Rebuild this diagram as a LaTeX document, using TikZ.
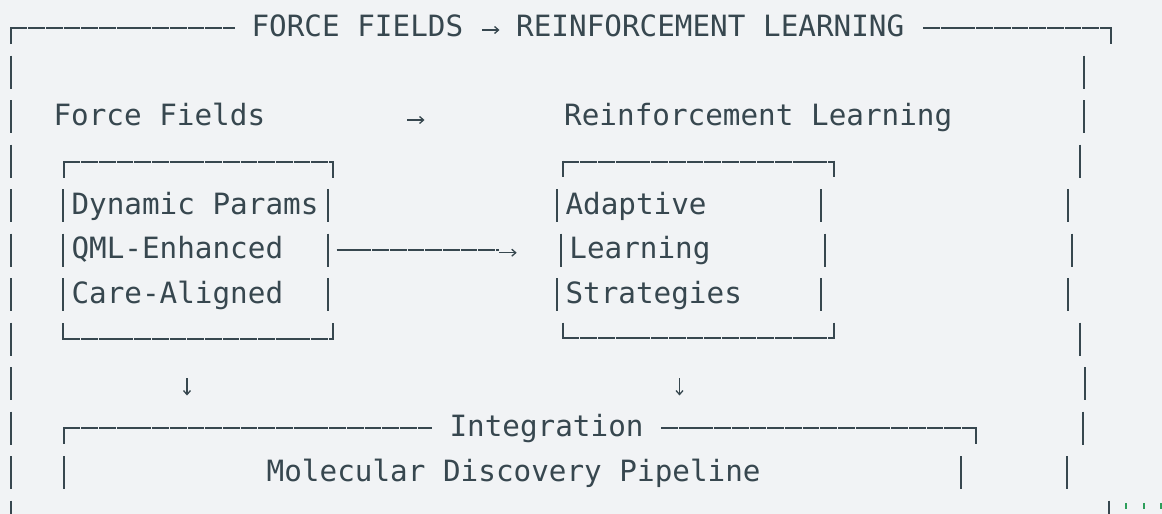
\documentclass[tikz,border=0pt]{standalone}
\usepackage{fontspec}
\newfontfamily\monofam{DejaVu Sans Mono}
\usetikzlibrary{arrows.meta}
\definecolor{ink}{HTML}{37474F}
\definecolor{bgc}{HTML}{F1F3F5}
\definecolor{tickc}{HTML}{2E9E5B}
\tikzset{
  txt/.style={anchor=base west, inner sep=0pt, outer sep=0pt, text=ink,
              font=\monofam\fontsize{29.3}{35}\selectfont},
  rule/.style={draw=ink, line width=2pt},
  hrule/.style={draw=ink, line width=2pt, dash pattern=on 16.8pt off 0.9pt},
  garrow/.style={draw=ink, line width=1.3pt, -{Straight Barb[length=4pt,width=7pt]}},
  ticks/.style={draw=tickc, line width=2pt}
}
\begin{document}
\begin{tikzpicture}[x=1pt,y=-1pt]
\fill[bgc] (0,0) rectangle (1162,514);
\useasboundingbox (0,0) rectangle (1162,514);

% ---- title row
\node[txt] (tA) at (251.5,36) {FORCE FIELDS};
\node[txt] (tB) at (516.2,36) {REINFORCEMENT LEARNING};
\coordinate (ta1) at (482,30);
\coordinate (ta2) at (499.5,30);
\draw[garrow] (ta1) -- (ta2);

% ---- outer frame
\draw[rule] (10.5,44) -- (10.5,27);
\draw[hrule] (10.5,28) -- (235,28);
\draw[hrule] (923,28) -- (1111,28);
\draw[rule] (1111,27) -- (1111,44);
\foreach \y in {55.5,100,144.5,189,233.5,278,322.5,367,411.5,456,500.5}
  \draw[rule] (10.5,\y) -- (10.5,\y+33);
\foreach \x/\y in {1084/55.5,1084/100,1080/144.5,1068/189,1072/233.5,1068/278,
                   1080/322.5,1084.5/367,1083/411.5,1067/456,1109/500.5}
  \draw[rule] (\x,\y) -- (\x,\y+33);
\foreach \x in {1126,1143.7,1161}
  \draw[ticks] (\x,503) -- (\x,509);

% ---- column headers
\node[txt] (ff) at (53.5,125) {Force Fields};
\node[txt] (rl) at (564.2,125) {Reinforcement Learning};
\coordinate (ha1) at (407,120);
\coordinate (ha2) at (424.5,120);
\draw[garrow] (ha1) -- (ha2);

% ---- box 1
\draw[rule] (63.5,161) -- (63.5,178);
\draw[hrule] (63.5,162) -- (333.3,162);
\draw[rule] (333.3,161) -- (333.3,178);
\foreach \y in {189,233.5,278}{
  \draw[rule] (63.3,\y) -- (63.3,\y+33);
  \draw[rule] (328.3,\y) -- (328.3,\y+33);
}
\node[txt] (dp) at (71.5,214) {Dynamic Params};
\node[txt] (qml) at (71.5,258.5) {QML-Enhanced};
\node[txt] (ca) at (71.5,303) {Care-Aligned};
\draw[rule] (63.3,323) -- (63.3,340.3);
\draw[hrule] (63.3,339.3) -- (333.3,339.3);
\draw[rule] (333.3,323) -- (333.3,340.3);

% ---- box 2
\draw[rule] (562.6,160.7) -- (562.6,176.7);
\draw[hrule] (562.6,161.7) -- (833.6,161.7);
\draw[rule] (833.6,160.7) -- (833.6,176.7);
\foreach \xl/\xr/\y in {556.7/821/189,560.6/825/233.5,556.7/821/278}{
  \draw[rule] (\xl,\y) -- (\xl,\y+33);
  \draw[rule] (\xr,\y) -- (\xr,\y+33);
}
\node[txt] (ad) at (565.5,214) {Adaptive};
\node[txt] (le) at (569.4,258.5) {Learning};
\node[txt] (st) at (565.5,303) {Strategies};
\draw[rule] (562.6,322.7) -- (562.6,339.3);
\draw[hrule] (562.6,338.3) -- (833.6,338.3);
\draw[rule] (833.6,322.7) -- (833.6,339.3);

% ---- connector box 1 -> box 2
\coordinate (c1) at (336.7,250);
\coordinate (c2) at (499.3,250);
\coordinate (c3) at (499,252.7);
\coordinate (c4) at (516.7,252.7);
\draw[hrule] (c1) -- (c2);
\draw[garrow] (c3) -- (c4);

% ---- down arrows
\coordinate (d1) at (187,378);
\coordinate (d2) at (187,395.5);
\coordinate (d3) at (679.5,378);
\coordinate (d4) at (679.5,395.5);
\draw[garrow] (d1) -- (d2);
\draw[garrow] (d3) -- (d4);

% ---- integration box
\draw[rule] (63.6,427.3) -- (63.6,444);
\draw[hrule] (63.6,428.3) -- (432,428.3);
\node[txt] (ig) at (449.5,436.5) {Integration};
\draw[hrule] (661,428.3) -- (976.4,428.3);
\draw[rule] (976.4,427.3) -- (976.4,444);
\draw[rule] (63.6,456) -- (63.6,489);
\draw[rule] (961.2,456) -- (961.2,489);
\node[txt] (mdp) at (266.7,481) {Molecular Discovery Pipeline};
\end{tikzpicture}
\end{document}
